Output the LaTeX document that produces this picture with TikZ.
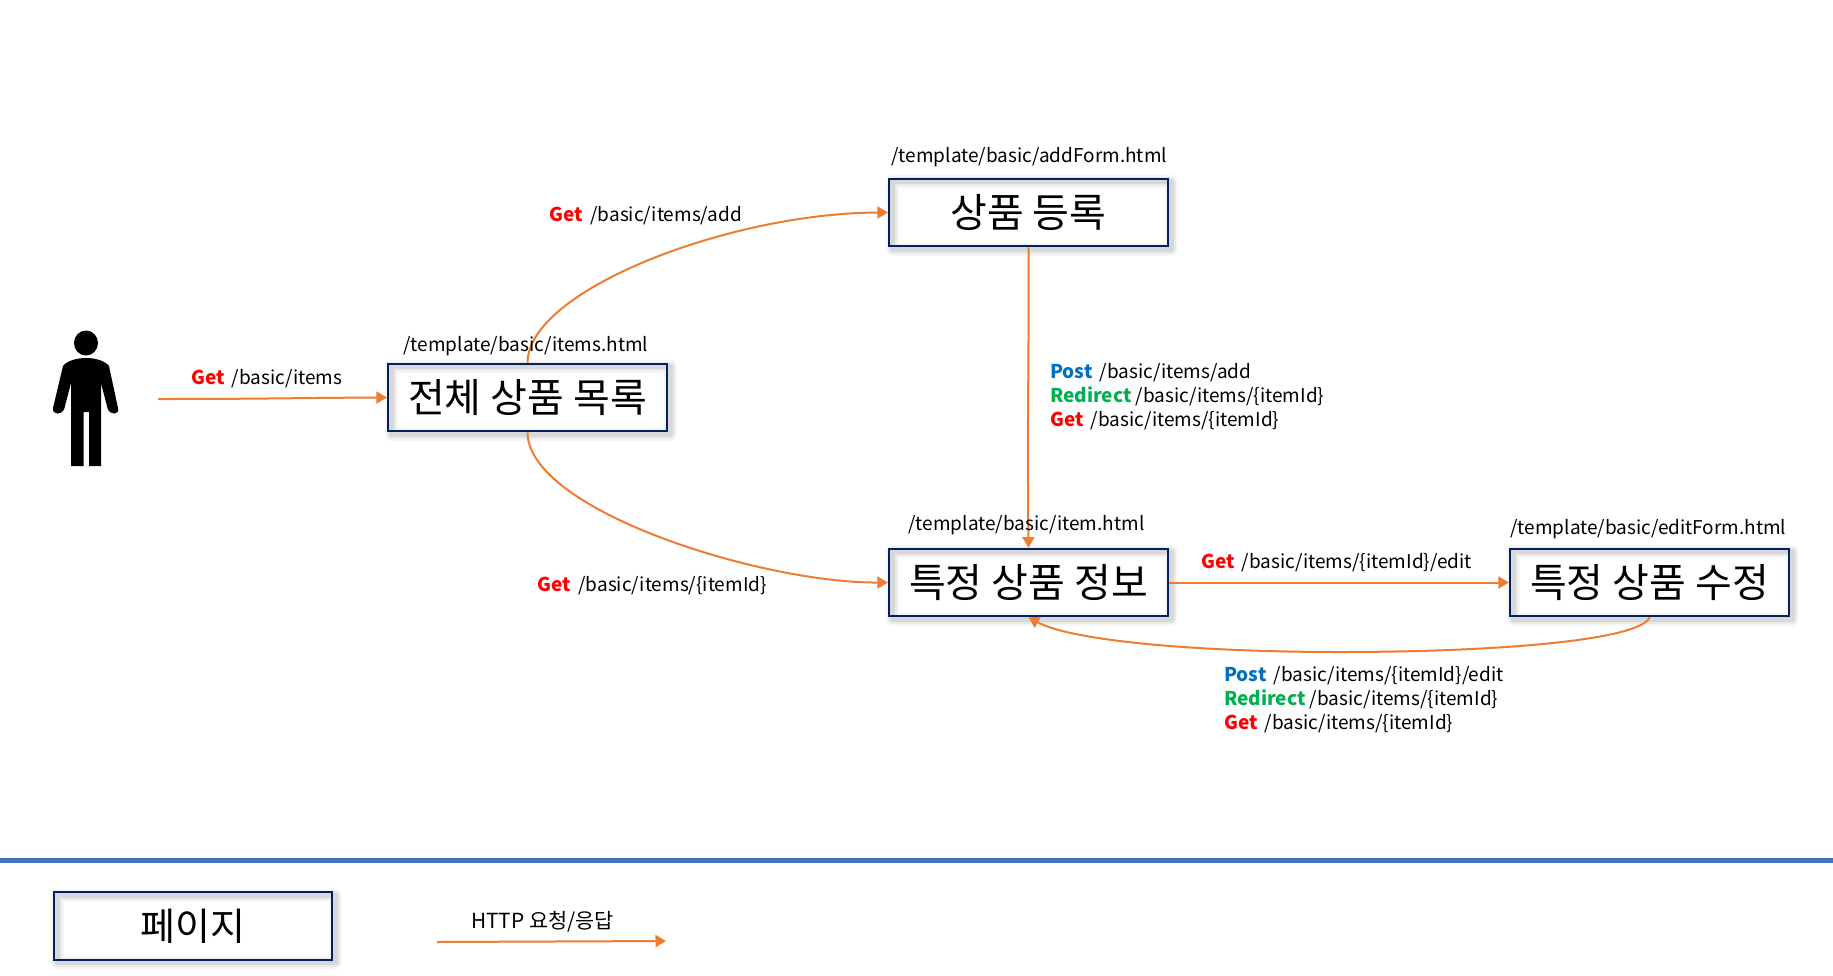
\documentclass[tikz,border=0pt]{standalone}
\usepackage{fontspec}
\setmainfont{Noto Sans CJK KR}
\usetikzlibrary{arrows.meta}
\definecolor{boxblue}{HTML}{002060}
\definecolor{wire}{HTML}{ED7D31}
\definecolor{rulecol}{HTML}{4472C4}
\definecolor{getc}{HTML}{FF0000}
\definecolor{postc}{HTML}{0070C0}
\definecolor{redirc}{HTML}{00B050}
\newcommand\GetW{\textcolor{getc}{\textbf{Get}}\hspace{3pt}}
\newcommand\PostW{\textcolor{postc}{\textbf{Post}}\hspace{3pt}}
\newcommand\RedirW{\textcolor{redirc}{\textbf{Redirect}}\hspace{0pt}}
\tikzset{
  x=1pt,y=-1pt,
  pagebox/.style={draw=boxblue,line width=2.2pt,minimum width=279pt,minimum height=67.5pt,inner sep=0pt,
    font=\fontsize{40}{42}\selectfont,
    preaction={draw=black,draw opacity=.035,line width=13pt,line join=round,transform canvas={shift={(3pt,-3pt)}}},
    preaction={draw=black,draw opacity=.05,line width=9pt,line join=round,transform canvas={shift={(3pt,-3pt)}}},
    preaction={draw=black,draw opacity=.07,line width=5pt,line join=round,transform canvas={shift={(3pt,-3pt)}}}},
  lbl/.style={anchor=west,inner sep=0pt,font=\fontsize{19}{24}\selectfont,align=left,text=black},
  wirearrow/.style={draw=wire,line width=2pt,-{Triangle[length=10.5pt,width=12pt]}},
  figure/.style={fill=black,draw=none},
}
\begin{document}
\begin{tikzpicture}
\useasboundingbox (0,0) rectangle (1833,975);
\fill[white] (0,0) rectangle (1833,975);
% person
\fill[figure] (86,343) ellipse [x radius=12,y radius=12.5];
\fill[figure] (86,358) .. controls (76,358) and (67,361) .. (63,366) -- (53,408)
  .. controls (52,415) and (62,416) .. (64.5,408) -- (71,383) -- (71,466) -- (83.5,466) -- (83.5,412) -- (89,412) -- (89,466) -- (101,466) -- (101,383) -- (107.5,408)
  .. controls (110,416) and (120,415) .. (118,408) -- (109,366) .. controls (105,361) and (96,358) .. (86,358) -- cycle;
\coordinate (userout) at (158,399);
% boxes
\node[pagebox] (add) at (1028.5,212.5) {상품 등록};
\node[pagebox] (items) at (527.5,397.5) {전체 상품 목록};
\node[pagebox] (item) at (1028.5,582.5) {특정 상품 정보};
\node[pagebox] (edit) at (1649.5,582.5) {특정 상품 수정};
\node[pagebox,minimum width=278pt,font=\fontsize{38}{40}\selectfont] (legend) at (193,926) {페이지};
% connectors
\draw[wirearrow] (userout) .. controls (270,399) and (280,398) .. (items.west);
\draw[wirearrow] (items.north) .. controls (528,290) and (730,213) .. (add.west);
\draw[wirearrow] (items.south) .. controls (528,510) and (760,583) .. (item.west);
\draw[wirearrow] (add.south) .. controls (1029,400) and (1027,400) .. (item.north);
\draw[wirearrow] (item.east) -- (edit.west);
\draw[wirearrow] (edit.south) .. controls (1640,640) and (1500,652) .. (1340,652) .. controls (1190,652) and (1070,640) .. (item.south);
% labels
\node[lbl] (t1) at (891,157) {/template/basic/addForm.html};
\node[lbl] (t2) at (403,346) {/template/basic/items.html};
\node[lbl] (t3) at (908,525) {/template/basic/item.html};
\node[lbl] (t4) at (1510,529) {/template/basic/editForm.html};
\node[lbl] (l1) at (191,379) {\GetW\ /basic/items};
\node[lbl] (l2) at (549.5,216) {\GetW\ /basic/items/add};
\node[lbl] (l3) at (537.5,586) {\GetW\ /basic/items/\{itemId\}};
\node[lbl] (l4) at (1050,397) {\PostW\ /basic/items/add\\\RedirW\ /basic/items/\{itemId\}\\\GetW\ /basic/items/\{itemId\}};
\node[lbl] (l5) at (1201,563) {\GetW\ /basic/items/\{itemId\}/edit};
\node[lbl] (l6) at (1224,700) {\PostW\ /basic/items/\{itemId\}/edit\\\RedirW\ /basic/items/\{itemId\}\\\GetW\ /basic/items/\{itemId\}};
% legend
\coordinate (rulea) at (0,860.5);
\coordinate (ruleb) at (1833,860.5);
\draw[rulecol,line width=5pt] (rulea) -- (ruleb);
\coordinate (lega) at (437,942);
\coordinate (legb) at (666,941);
\draw[wirearrow] (lega) -- (legb);
\node[lbl,font=\fontsize{20.8}{24}\selectfont] (l7) at (471,922) {HTTP 요청/응답};
\end{tikzpicture}
\end{document}
